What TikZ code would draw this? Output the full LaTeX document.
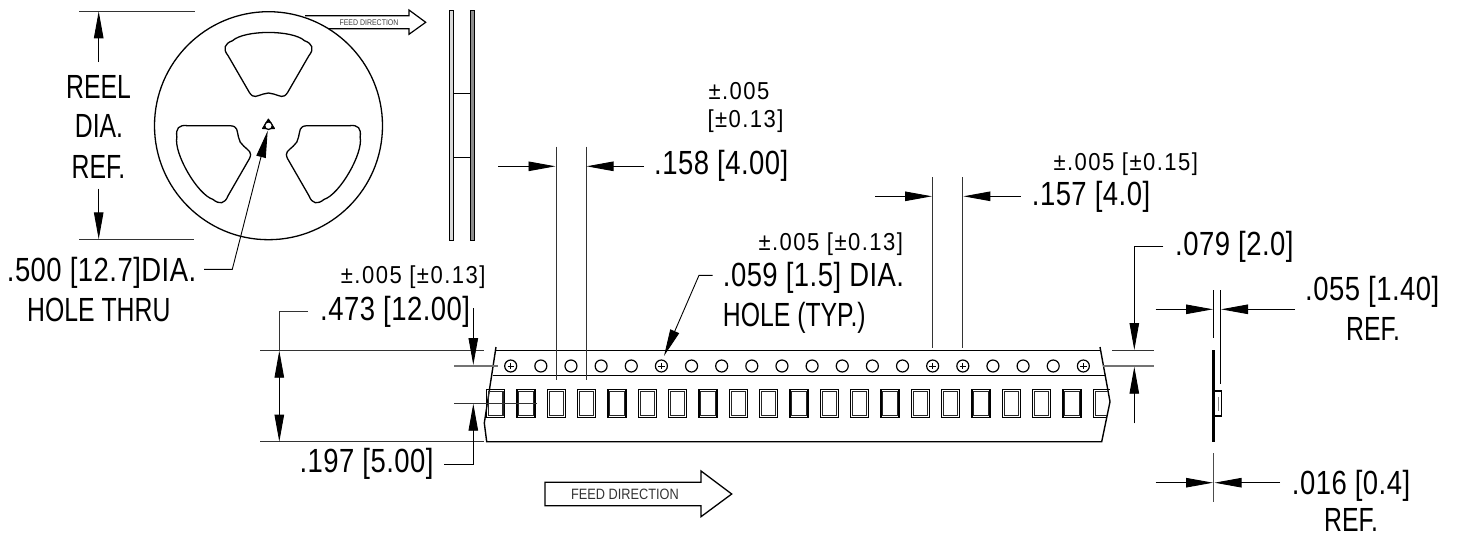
\documentclass[tikz,border=0pt]{standalone}
\usepackage{fontspec}
\setmainfont{Liberation Sans}
\newfontfamily\dimfont[FakeStretch=0.74]{Liberation Sans}
\newfontfamily\numfont[FakeStretch=0.82,LetterSpace=1.4]{Liberation Sans}
\newfontfamily\tolfont[FakeStretch=0.9,LetterSpace=6]{Liberation Sans}
\newfontfamily\feedfont[FakeStretch=0.85]{Liberation Sans}
\usetikzlibrary{calc,arrows.meta,positioning}
\tikzset{
  dimline/.style={line width=0.9pt,-{Triangle[length=27pt,width=9.5pt]}},
  extline/.style={line width=0.9pt,black!80},
  bigtext/.style={anchor=base west,inner sep=0pt,font=\dimfont\fontsize{33.5}{36}\selectfont},
  numtext/.style={anchor=base west,inner sep=0pt,font=\numfont\fontsize{33.5}{36}\selectfont},
  tol/.style={anchor=base west,inner sep=0pt,font=\tolfont\fontsize{24.5}{28}\selectfont},
  feedtext/.style={inner sep=0pt,black!80,font=\feedfont\fontsize{15}{16}\selectfont},
  tapeline/.style={line width=1.4pt},
  sprocket/.style={line width=1.5pt},
  sprocketin/.style={line width=1.2pt,black!85},
  holedot/.style={circle,draw,line width=1.2pt,minimum size=12pt,inner sep=0pt},
}
\newcommand{\windowpath}{%
  (-36,-85) .. controls (-24,-96) and (24,-96) .. (36,-85)
  .. controls (44,-82) and (46,-77) .. (40.4,-70) -- (19,-33)
  .. controls (17,-30) and (15,-29) .. (13,-29.3)
  .. controls (6,-31) and (4,-32.7) .. (0,-32.7)
  .. controls (-4,-32.7) and (-6,-31) .. (-13,-29.3)
  .. controls (-15,-29) and (-17,-30) .. (-19,-33) -- (-40.4,-70)
  .. controls (-46,-77) and (-44,-82) .. (-36,-85) -- cycle}
\begin{document}
\begin{tikzpicture}[x=1pt,y=-1pt]
  \useasboundingbox (0,0) rectangle (1459,538);
  % reel front view
  \coordinate (hub) at (268.5,125.7);
  \draw[line width=1.3pt] (hub) circle (114);
  \foreach \ang in {0,120,240}
    \draw[line width=1.3pt,shift={(hub)},rotate=\ang] \windowpath;
  \fill[line join=round,draw,line width=1pt] (268.4,119) -- (262.5,128.5) -- (274.5,128.5) -- cycle;
  \draw[fill=white,line width=1.2pt] (hub) circle (3.8);
  % small feed arrow
  \draw[line width=1.2pt,line join=miter] (305,15.7) -- (409,15.7) -- (409,10) -- (425.7,22.3)
    -- (409,34.3) -- (409,28.7) -- (329,28.7);
  \node[inner sep=0pt,black!75,font=\feedfont\fontsize{8.2}{9}\selectfont] (feedsmall) at (369,22.3) {FEED DIRECTION};
  % reel side view
  \draw[line width=0.9pt,fill=black!15] (449.3,10.7) rectangle (453.3,240);
  \draw[line width=0.9pt,fill=black!45] (470,10.7) rectangle (474,240);
  \draw[line width=0.9pt] (453.3,93.7) -- (470,93.7) (453.3,157.3) -- (470,157.3);
  % reel dia. dimension
  \draw[extline] (79.3,11.3) -- (195,11.3) (79.3,239.3) -- (194,239.3);
  \node[bigtext,anchor=base] (reeltxt) at (98.5,98) {REEL};
  \node[bigtext,anchor=base] (diatxt) at (99,137) {DIA.};
  \node[bigtext,anchor=base] (reftxt) at (98.5,178) {REF.};
  \coordinate (reeltop) at (98.7,11.3);
  \coordinate (reelbot) at (98.7,239.3);
  \draw[dimline] (98.7,62) -- (reeltop);
  \draw[dimline] (98.7,188.7) -- (reelbot);
  % hub leader
  \node[numtext] (holetxt) at (6.7,281.7) {.500 [12.7]DIA.};
  \node[bigtext] (thrutxt) at (27,321.7) {HOLE THRU};
  \draw[dimline] (204,269.3) -- (232.3,269.3) -- (267.7,130.7);
  % tape outline
  \draw[tapeline,line join=miter] (496,347) -- (484.3,423) -- (486.7,441.7) -- (1101.7,441.7)
    -- (1110,401.7) -- (1100,347);
  \draw[tapeline] (494.5,350.7) -- (1100.6,350.7);
  \draw[line width=1pt] (492.5,375.7) -- (1105,375.7);
  % sprocket holes and pockets
  \foreach \i in {0,...,19}
    \node[holedot] (hole\i) at ({510.7+30.14*\i},366) {};
  \foreach \i in {0,5,14,15,19}
    \draw[line width=0.8pt] ($(hole\i)+(-3.2,0)$) -- ($(hole\i)+(3.2,0)$)
      ($(hole\i)+(0,-3.2)$) -- ($(hole\i)+(0,3.2)$);
  \foreach \i in {0,...,19} {
    \draw[sprocket] ({486.7+30.33*\i},389.3) rectangle ({504.7+30.33*\i},417.3);
    \draw[sprocketin] ({488.5+30.33*\i},391.1) rectangle ({502.9+30.33*\i},415.5);
  }
  \draw[sprocket] (1109.5,389.3) -- (1093.3,389.3) -- (1093.3,417.3) -- (1106.5,417.3);
  \draw[sprocketin] (1108,391.1) -- (1095.1,391.1) -- (1095.1,415.5) -- (1107,415.5);
  % tape extension lines
  \draw[extline] (260,350.7) -- (484,350.7) (260,441.7) -- (484,441.7);
  \draw[line width=1.3pt,black!55] (454,366) -- (498,366);
  \draw[extline] (454,403.7) -- (537.3,403.7);
  \draw[extline] (556,146.7) -- (556,380) (586,146.7) -- (586,380);
  \draw[extline] (932.7,177.3) -- (932.7,348) (962.7,177.3) -- (962.7,348);
  \draw[extline] (1112.3,350.7) -- (1154,350.7);
  \draw[line width=1.3pt,black!55] (1103,366) -- (1154,366);
  % tape width
  \node[tol] (tolwidth) at (340.7,283) {±.005 [±0.13]};
  \node[numtext] (widthtxt) at (320,320.7) {.473 [12.00]};
  \draw[extline] (308,311.7) -- (279.3,311.7) -- (279.3,350.7);
  \draw[dimline] (279.3,396) -- (279.3,350.7);
  \draw[dimline] (279.3,396) -- (279.3,441.7);
  \draw[dimline] (473.3,308) -- (473.3,365);
  \node[numtext] (pockettxt) at (299.3,472.7) {.197 [5.00]};
  \draw[dimline] (444.3,464) -- (473.3,464) -- (473.3,403.7);
  % hole pitch
  \node[tol] (tolpitcha) at (708.3,99) {±.005};
  \node[tol] (tolpitchb) at (707.3,127.7) {[±0.13]};
  \node[numtext] (pitchtxt) at (654,174.3) {.158 [4.00]};
  \draw[dimline] (498,166.3) -- (555.5,166.3);
  \draw[dimline] (644,166.3) -- (586.5,166.3);
  % hole dia.
  \node[tol] (toldia) at (758.3,250.7) {±.005 [±0.13]};
  \node[numtext] (sprocktxt) at (722.7,286.7) {.059 [1.5] DIA.};
  \node[bigtext] (typtxt) at (722.7,326.7) {HOLE (TYP.)};
  \draw[dimline] (712.7,275.3) -- (699,275.3) -- (664,356);
  % pocket pitch
  \node[tol] (tolpocket) at (1053.3,170) {±.005 [±0.15]};
  \node[numtext] (pocketpitch) at (1031.7,205.7) {.157 [4.0]};
  \draw[dimline] (875,196.3) -- (932,196.3);
  \draw[dimline] (1020.7,196.3) -- (963.4,196.3);
  % hole to edge
  \node[numtext] (edgetxt) at (1175,255) {.079 [2.0]};
  \draw[dimline] (1163.3,246.7) -- (1134.3,246.7) -- (1134.3,350);
  \draw[dimline] (1134.3,423.3) -- (1134.3,366.7);
  % tape side view
  \draw[line width=2.5pt] (1213.7,350) -- (1213.7,441.7);
  \draw[line width=0.9pt] (1213.7,290) -- (1213.7,338.3);
  \draw[line width=0.9pt] (1220.3,290) -- (1220.3,384);
  \draw[line width=1.1pt] (1213.7,391) -- (1221.3,391) -- (1221.3,416) -- (1213.7,416);
  \draw[line width=0.9pt,black!50] (1218,397) -- (1218,411);
  \draw[line width=1.2pt,black!70] (1213.7,453.3) -- (1213.7,501.7);
  % side view dimensions
  \node[numtext] (depthtxt) at (1305,300.7) {.055 [1.40]};
  \node[bigtext] (depthref) at (1346,340.7) {REF.};
  \draw[dimline] (1155.7,309.3) -- (1213,309.3);
  \draw[dimline] (1295,309.3) -- (1221,309.3);
  \node[numtext] (thicktxt) at (1291.7,494.3) {.016 [0.4]};
  \node[bigtext] (thickref) at (1324,531) {REF.};
  \draw[dimline] (1155.7,482.7) -- (1213,482.7);
  \draw[dimline] (1280,482.7) -- (1214.5,482.7);
  % feed arrow under tape
  \draw[line width=1.3pt,line join=miter] (545,482.3) -- (701,482.3) -- (701,471) -- (731.7,494)
    -- (701,516.7) -- (701,505.7) -- (545,505.7) -- cycle;
  \node[feedtext] (feedbig) at (625,494) {FEED DIRECTION};
\end{tikzpicture}
\end{document}
